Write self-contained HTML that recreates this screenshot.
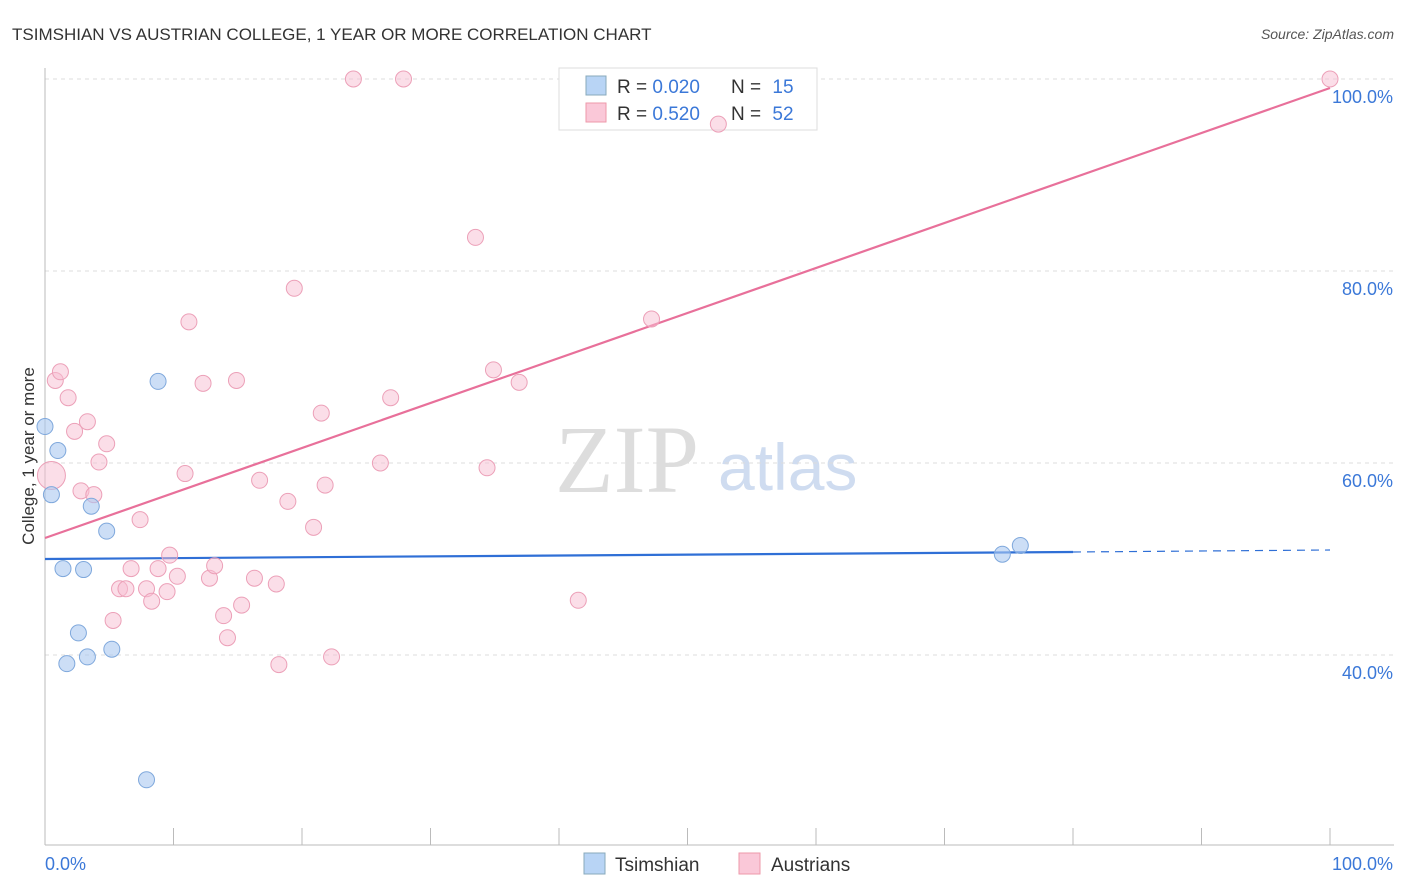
<!DOCTYPE html>
<html><head><meta charset="utf-8">
<style>
body{margin:0;background:#fff;font-family:"Liberation Sans",sans-serif;}
#wrap{position:relative;width:1406px;height:892px;overflow:hidden;}
</style></head>
<body>
<div id="wrap">
<svg id="chart" width="1406" height="892" xmlns="http://www.w3.org/2000/svg">
<text x="12" y="40" font-size="17" fill="#333">TSIMSHIAN VS AUSTRIAN COLLEGE, 1 YEAR OR MORE CORRELATION CHART</text>
<text x="1394" y="39" font-size="14" fill="#555" text-anchor="end" font-style="italic">Source: ZipAtlas.com</text>
<text x="34" y="456" font-size="17" fill="#333" text-anchor="middle" transform="rotate(-90 34 456)">College, 1 year or more</text>
<text x="555" y="492" font-size="96" fill="#ddd" font-family="Liberation Serif,serif">ZIP</text>
<text x="718" y="490" font-size="66" fill="#cfdcf0">atlas</text>
<g id="grid"></g>
<g id="axes"></g>
<g>
<rect x="559" y="68" width="258" height="62" fill="#fff" stroke="#ddd"/>
<rect x="586" y="76" width="20" height="19" fill="#b8d4f5" stroke="#8ab"/>
<text x="617" y="93" font-size="19" fill="#333">R = <tspan fill="#3b78d8">0.020</tspan></text>
<text x="731" y="93" font-size="19" fill="#333">N = <tspan fill="#3b78d8" dx="6">15</tspan></text>
<rect x="586" y="103" width="20" height="19" fill="#fac8d8" stroke="#e9a"/>
<text x="617" y="120" font-size="19" fill="#333">R = <tspan fill="#3b78d8">0.520</tspan></text>
<text x="731" y="120" font-size="19" fill="#333">N = <tspan fill="#3b78d8" dx="6">52</tspan></text>
</g>
<g id="lines"></g>
<g id="points"></g>
<g>
<rect x="584" y="853" width="21" height="21" fill="#b8d4f5" stroke="#8ab"/>
<text x="615" y="871" font-size="19" fill="#333">Tsimshian</text>
<rect x="739" y="853" width="21" height="21" fill="#fac8d8" stroke="#e9a"/>
<text x="771" y="871" font-size="19" fill="#333">Austrians</text>
</g>
</svg>
</div>
<script>
const blueX=[0,1.0,0.5,3.6,4.8,1.4,3.0,2.6,1.7,3.3,5.2,8.8,7.9,74.5,75.9];
const blueY=[63.8,61.3,56.7,55.5,52.9,49.0,48.9,42.3,39.1,39.8,40.6,68.5,27.0,50.5,51.4];
const pinkX=[0.5,0.8,1.2,1.8,2.3,3.3,4.2,4.8,2.8,3.8,7.4,5.3,5.8,6.3,6.7,7.9,8.3,8.8,9.7,10.3,10.9,11.2,12.3,12.8,13.2,13.9,14.2,14.9,15.3,16.3,16.7,18.0,18.2,18.9,19.4,20.9,21.5,21.8,22.3,24.0,26.1,26.9,27.9,33.5,34.4,34.9,36.9,41.5,47.2,52.4,100,9.5];
const pinkY=[58.7,68.6,69.5,66.8,63.3,64.3,60.1,62.0,57.1,56.7,54.1,43.6,46.9,46.9,49.0,46.9,45.6,49.0,50.4,48.2,58.9,74.7,68.3,48.0,49.3,44.1,41.8,68.6,45.2,48.0,58.2,47.4,39.0,56.0,78.2,53.3,65.2,57.7,39.8,100,60.0,66.8,100,83.5,59.5,69.7,68.4,45.7,75.0,95.3,100,46.6];
const xTicks=[0,10,20,30,40,50,60,70,80,90,100];
const yTicks=[40,60,80,100];
const NS="http://www.w3.org/2000/svg";
const X=v=>45+v*12.85, Y=v=>79+(100-v)*9.6;
function mk(t,a,p){const e=document.createElementNS(NS,t);for(const k in a)e.setAttribute(k,a[k]);document.getElementById(p).appendChild(e);return e;}
yTicks.forEach(t=>{
 const l=mk('line',{x1:45,x2:1394,y1:Y(t),y2:Y(t),stroke:'#ddd','stroke-dasharray':'4,4'},'grid');
 
 
 const tx=mk('text',{x:1393,y:Y(t)+24,'font-size':18,fill:'#3b78d8','text-anchor':'end'},'axes');
 tx.textContent=t.toFixed(1)+'%';
 
 
});
mk('line',{x1:45,x2:45,y1:68,y2:845,stroke:'#bbb'},'axes');
mk('line',{x1:45,x2:1394,y1:845,y2:845,stroke:'#bbb'},'axes');
xTicks.forEach(t=>{
 const l=mk('line',{x1:X(t),x2:X(t),y1:828,y2:845,stroke:'#bbb'},'axes');
 
 
});
const x0=mk('text',{x:45,y:870,'font-size':18,fill:'#3b78d8'},'axes');x0.textContent='0.0%';


const x1=mk('text',{x:1393,y:870,'font-size':18,fill:'#3b78d8','text-anchor':'end'},'axes');x1.textContent='100.0%';


const pl=mk('line',{x1:45,y1:538,x2:1330,y2:88,stroke:'#e8709a','stroke-width':2.2},'lines');


const bl=mk('line',{x1:45,y1:559,x2:1073,y2:552,stroke:'#2f6fd6','stroke-width':2.2},'lines');


const bd=mk('line',{x1:1073,y1:552,x2:1330,y2:550,stroke:'#2f6fd6','stroke-width':1.2,'stroke-dasharray':'8,6'},'lines');


pinkX.forEach((v,i)=>{
 const c=mk('circle',{cx:X(v),cy:Y(pinkY[i]),r:i===0?14:8,fill:'rgba(248,190,210,0.5)',stroke:'#eca0b8','stroke-width':1},'points');
 
 
});
blueX.forEach((v,i)=>{
 const c=mk('circle',{cx:X(v),cy:Y(blueY[i]),r:8,fill:'rgba(170,200,240,0.6)',stroke:'#7fa8dc','stroke-width':1},'points');
 
 
});
</script>
</body></html>
